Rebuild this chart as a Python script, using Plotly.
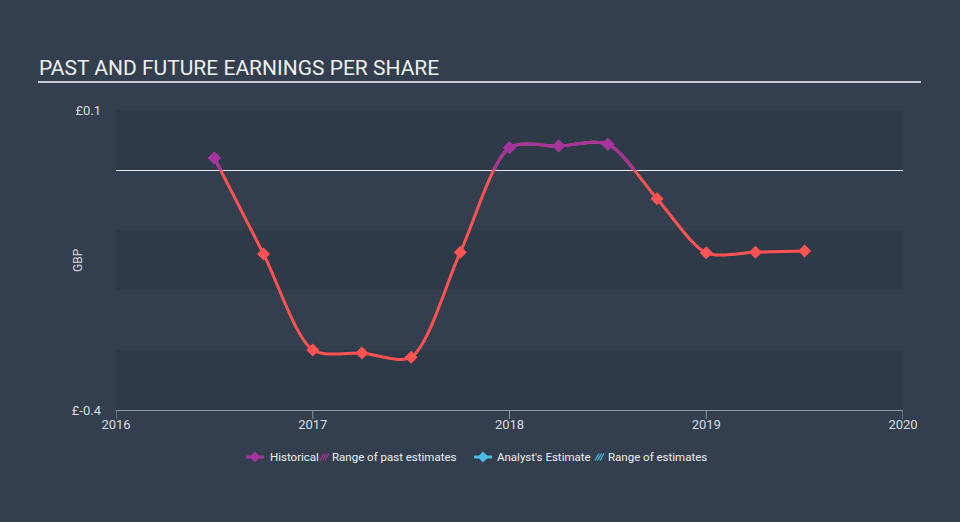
import plotly.graph_objects as go

# ---- data ----
dates = [2016.5, 2016.75, 2017.0, 2017.25, 2017.5, 2017.75, 2018.0,
         2018.25, 2018.5, 2018.75, 2019.0, 2019.25, 2019.5]
eps = [0.02, -0.14, -0.30, -0.305, -0.312, -0.137, 0.037,
       0.040, 0.043, -0.048, -0.138, -0.137, -0.135]
year_ticks = [2016, 2017, 2018, 2019, 2020]
y_ticks = [-0.4, 0.1]
y_ticktext = ["£-0.4", "£0.1"]
bands = [(0.0, 0.1), (-0.2, -0.1), (-0.4, -0.3)]
legend_labels = ["Historical", "Range of past estimates", "Analyst's Estimate", "Range of estimates"]

RED = "#ff5252"
MAG = "#a3359c"
BLUE = "#48bde6"
BG = "#333f4e"
BAND = "#2e3a48"
FONT = "Roboto"
SMOOTH = 0.8

# plot-area pixel geometry helpers (for decorations only)
L, R, T, B = 116, 903, 110, 410
def px(x):
    return (x - L) / (R - L)
def py(y):
    return (B - y) / (B - T)

fig = go.Figure()

# red full line on main axes
fig.add_trace(go.Scatter(x=dates, y=eps, mode="lines",
                         line=dict(color=RED, width=3, shape="spline", smoothing=SMOOTH),
                         showlegend=False, hoverinfo="skip"))
# markers coloured by sign
fig.add_trace(go.Scatter(x=dates, y=eps, mode="markers",
                         marker=dict(symbol="diamond", size=10,
                                     color=[MAG if v > 0 else RED for v in eps]),
                         showlegend=False))
# magenta line on the positive-only subplot (clipped at zero)
fig.add_trace(go.Scatter(x=dates, y=eps, mode="lines", xaxis="x2", yaxis="y2",
                         line=dict(color=MAG, width=3, shape="spline", smoothing=SMOOTH),
                         showlegend=False, hoverinfo="skip"))
pos_x = [d for d, v in zip(dates, eps) if v > 0]
pos_y = [v for v in eps if v > 0]
fig.add_trace(go.Scatter(x=pos_x, y=pos_y, mode="markers", xaxis="x2", yaxis="y2",
                         marker=dict(symbol="diamond", size=10, color=MAG),
                         showlegend=False))

shapes = []
for lo, hi in bands:
    shapes.append(dict(type="rect", xref="x domain", yref="y", x0=0, x1=1, y0=lo, y1=hi,
                       fillcolor=BAND, line=dict(width=0), layer="below"))
# x tick marks
for t in year_ticks:
    shapes.append(dict(type="line", xref="x", yref="paper", x0=t, x1=t,
                       y0=0, y1=py(419), line=dict(color="#8e99a6", width=1)))
# title underline
shapes.append(dict(type="line", xref="paper", yref="paper",
                   x0=px(38), x1=px(921), y0=py(82), y1=py(82),
                   line=dict(color="#c8ccd2", width=2)))

annotations = [dict(text="PAST AND FUTURE EARNINGS PER SHARE", xref="paper", yref="paper",
                    x=px(37), y=py(68), xanchor="left", yanchor="middle",
                    showarrow=False, font=dict(size=21, color="#eef0f2", family=FONT)),
               dict(text="GBP", xref="paper", yref="paper", x=px(78), y=py(260),
                    xanchor="center", yanchor="middle", textangle=-90, showarrow=False,
                    font=dict(size=12, color="#d8dce0", family=FONT))]

# ---- manual legend ----
LY = 457
def diamond(cx, cy, r, color):
    return dict(type="path", xref="paper", yref="paper",
                path=f"M {px(cx-r)} {py(cy)} L {px(cx)} {py(cy-r)} L {px(cx+r)} {py(cy)} L {px(cx)} {py(cy+r)} Z",
                fillcolor=color, line=dict(width=0))
def hatch(x0, color):
    out = []
    for k in range(3):
        a = x0 + k * 2.5
        out.append(dict(type="line", xref="paper", yref="paper",
                        x0=px(a), y0=py(LY + 3.5), x1=px(a + 4), y1=py(LY - 3.5),
                        line=dict(color=color, width=1.2)))
    return out

items = [(246, MAG, "line", legend_labels[0], 268),
         (320, MAG, "hatch", legend_labels[1], 330),
         (474, BLUE, "line", legend_labels[2], 495),
         (595, BLUE, "hatch", legend_labels[3], 606)]
for x0, col, kind, label, tx in items:
    if kind == "line":
        shapes.append(dict(type="line", xref="paper", yref="paper",
                           x0=px(x0), x1=px(x0 + 18), y0=py(LY), y1=py(LY),
                           line=dict(color=col, width=3)))
        shapes.append(diamond(x0 + 9, LY, 5.5, col))
    else:
        shapes.extend(hatch(x0, col))
    annotations.append(dict(text=label, xref="paper", yref="paper", x=px(tx), y=py(LY),
                            xanchor="left", yanchor="middle", showarrow=False,
                            font=dict(size=11.5, color="#eceef0", family=FONT)))

fig.update_layout(
    width=960, height=522,
    margin=dict(l=L, r=960 - R, t=T, b=522 - B),
    paper_bgcolor=BG, plot_bgcolor="rgba(0,0,0,0)",
    font=dict(family=FONT, color="#d8dce0", size=12),
    showlegend=False,
    shapes=shapes,
    annotations=annotations,
    xaxis=dict(range=[2016, 2020], tickvals=year_ticks, ticktext=[str(t) for t in year_ticks],
               showgrid=False, zeroline=False, showline=True, linecolor="#8e99a6", linewidth=1,
               ticks="outside", ticklen=2, tickcolor="rgba(0,0,0,0)",
               tickfont=dict(size=13, color="#d8dce0")),
    yaxis=dict(range=[-0.4, 0.1], tickvals=y_ticks, ticktext=y_ticktext, showgrid=False,
               zeroline=True, zerolinecolor="#e8eaec", zerolinewidth=1, showline=False,
               ticks="", ticklabelstandoff=14,
               tickfont=dict(size=13, color="#d8dce0")),
    xaxis2=dict(range=[2016, 2020], anchor="y2", visible=False, matches="x"),
    yaxis2=dict(range=[0, 0.1], domain=[0.8, 1.0], anchor="x2", visible=False),
)

fig.write_html("out.html")
